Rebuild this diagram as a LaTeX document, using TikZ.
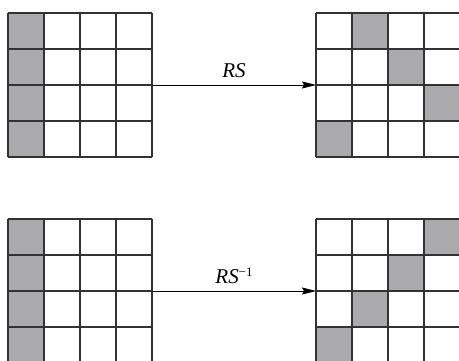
\documentclass[tikz,border=0pt]{standalone}
\usepackage{fontspec}
\setmainfont{Liberation Serif}
\usetikzlibrary{arrows.meta,calc}
\definecolor{cellgrey}{RGB}{170,170,173}
\definecolor{gridline}{RGB}{50,50,50}
\tikzset{
  gridbox/.style={rectangle,minimum width=144pt,minimum height=144pt,inner sep=0pt,outer sep=0pt},
  cellline/.style={draw=gridline,line width=1.3pt},
  flow/.style={draw=black,line width=0.8pt,-{Stealth[length=14pt,width=7pt,inset=2pt]}},
  lbl/.style={font=\fontsize{21}{21}\selectfont\itshape,inner sep=0pt}
}
\newcommand{\cellfill}[3]{\fill[cellgrey] ($(#1.north west)+(#3*36pt,-#2*36pt)$) rectangle ++(36pt,-36pt);}
\newcommand{\gridlines}[1]{%
  \foreach \k in {0,...,4}{
    \draw[cellline] ($(#1.north west)+(\k*36pt,0)$) -- ++(0,-144pt);
    \draw[cellline] ($(#1.north west)+(0,-\k*36pt)$) -- ++(144pt,0);
  }}
\begin{document}
\begin{tikzpicture}[x=1pt,y=-1pt]
\useasboundingbox (0,0) rectangle (459,361);
\clip (0,0) rectangle (459,361);
\node[gridbox,anchor=north west] (A) at (8,13) {};
\node[gridbox,anchor=north west] (B) at (316,13) {};
\node[gridbox,anchor=north west] (C) at (8,219) {};
\node[gridbox,anchor=north west] (D) at (316,219) {};
% shaded cells
\foreach \r in {0,...,3}{\cellfill{A}{\r}{0}}
\foreach \r in {0,...,3}{\cellfill{C}{\r}{0}}
\cellfill{B}{0}{1}\cellfill{B}{1}{2}\cellfill{B}{2}{3}\cellfill{B}{3}{0}
\cellfill{D}{0}{3}\cellfill{D}{1}{2}\cellfill{D}{2}{1}\cellfill{D}{3}{0}
\gridlines{A}\gridlines{B}\gridlines{C}\gridlines{D}
% arrows
\draw[flow] (A.east) -- node[lbl,above=6.5pt] (l1) {RS} (B.west);
\draw[flow] (C.east) -- node[lbl,above=7pt] (l2) {RS\raisebox{7pt}{\upshape\fontsize{13}{13}\selectfont −1}} (D.west);
\end{tikzpicture}
\end{document}
